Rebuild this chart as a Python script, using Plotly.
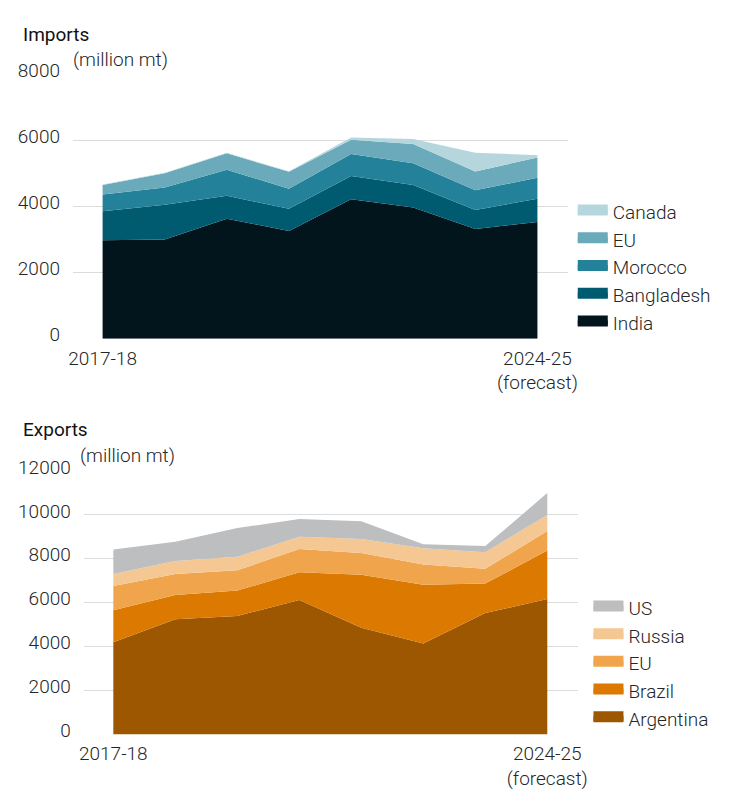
import plotly.graph_objects as go

years = ["2017-18", "2018-19", "2019-20", "2020-21", "2021-22", "2022-23", "2023-24", "2024-25"]
tick_labels = ["2017-18", "2024-25<br>(forecast)"]

# Imports (million mt)
imp_india = [2980, 3000, 3630, 3260, 4220, 3970, 3320, 3530]
imp_bangladesh = [875, 1050, 690, 670, 700, 680, 575, 700]
imp_morocco = [505, 525, 790, 605, 665, 655, 595, 635]
imp_eu = [290, 430, 495, 515, 430, 585, 570, 615]
imp_canada = [15, 15, 15, 15, 68, 146, 566, 68]

# Exports (million mt)
exp_argentina = [4200, 5255, 5400, 6130, 4860, 4145, 5530, 6175]
exp_brazil = [1465, 1095, 1155, 1255, 2410, 2675, 1345, 2205]
exp_eu = [1095, 965, 920, 1065, 995, 920, 670, 890]
exp_russia = [555, 585, 615, 555, 640, 745, 760, 730]
exp_us = [1110, 875, 1310, 805, 805, 175, 275, 995]

imports = [
    ("India", imp_india, "#02141c"),
    ("Bangladesh", imp_bangladesh, "#005a70"),
    ("Morocco", imp_morocco, "#238299"),
    ("EU", imp_eu, "#6aaabb"),
    ("Canada", imp_canada, "#b6d6de"),
]
exports = [
    ("Argentina", exp_argentina, "#9c5700"),
    ("Brazil", exp_brazil, "#dc7900"),
    ("EU", exp_eu, "#f0a54c"),
    ("Russia", exp_russia, "#f5c893"),
    ("US", exp_us, "#bdbebf"),
]

FONT = "Roboto"
TXT = "#262626"
OFF = 8                     # default page body margin
W, H = 729 - 2 * OFF, 798 - 2 * OFF

fig = go.Figure()


def add_group(series, stack, xa, ya, leg):
    for name, vals, col in series:
        fig.add_trace(go.Scatter(
            x=years, y=vals, name=name, stackgroup=stack, mode="none",
            fillcolor=col, xaxis=xa, yaxis=ya, showlegend=False,
            legendgroup=stack + name, hoverinfo="x+y+name",
        ))
    # legend-only entries (no data) for chunkier swatches
    for name, vals, col in series:
        fig.add_trace(go.Scatter(
            x=[None], y=[None], name=name, mode="lines", fill="toself",
            fillcolor=col, line=dict(color=col, width=10),
            xaxis=xa, yaxis=ya, legend=leg, legendgroup=stack + name,
            hoverinfo="skip",
        ))


add_group(imports, "imp", "x", "y", "legend")
add_group(exports, "exp", "x2", "y2", "legend2")


def px_x(p):
    return (p - OFF) / W


def px_y(p):
    return 1 - (p - OFF) / H


axis_font = dict(family=FONT, size=19, color=TXT, weight=300)

xcommon = dict(
    type="category", range=[-0.48, 7.49], showgrid=False, zeroline=False,
    showline=False, tickvals=[years[0], years[-1]], ticktext=tick_labels,
    tickfont=axis_font, ticks="outside", ticklen=2, tickcolor="rgba(0,0,0,0)",
    fixedrange=True,
)
ycommon = dict(
    showgrid=True, gridcolor="#dcdcdc", gridwidth=1, zeroline=False,
    showline=False, tickfont=axis_font, ticks="outside", ticklen=8,
    tickcolor="rgba(0,0,0,0)", ticklabelshift=-4, tickformat="d",
    fixedrange=True,
)

legend_common = dict(
    xanchor="left", yanchor="middle", traceorder="reversed",
    font=dict(family=FONT, size=19, color=TXT, weight=300),
    bgcolor="rgba(0,0,0,0)", itemclick=False, itemdoubleclick=False,
    tracegroupgap=0,
)

fig.update_layout(
    width=W, height=H,
    margin=dict(l=0, r=0, t=0, b=0),
    paper_bgcolor="white", plot_bgcolor="white",
    font=dict(family=FONT, size=19, color=TXT),
    xaxis=dict(domain=[px_x(70), px_x(575)], anchor="y", **xcommon),
    yaxis=dict(domain=[px_y(335), px_y(61)], anchor="x", range=[0, 8000],
               tickvals=[0, 2000, 4000, 6000, 8000], **ycommon),
    xaxis2=dict(domain=[px_x(81), px_x(585)], anchor="y2", **xcommon),
    yaxis2=dict(domain=[px_y(745), px_y(472)], anchor="x2", range=[0, 12000],
                tickvals=[0, 2000, 4000, 6000, 8000, 10000, 12000], **ycommon),
    legend=dict(x=px_x(580), y=px_y(261), **legend_common),
    legend2=dict(x=px_x(596), y=px_y(671), **legend_common),
    annotations=[
        dict(text="Imports", x=px_x(17), y=px_y(20), xref="paper", yref="paper",
             xanchor="left", yanchor="middle", showarrow=False,
             font=dict(family=FONT, size=19, color="#111111", weight=400)),
        dict(text="(million mt)", x=px_x(68), y=px_y(46), xref="paper", yref="paper",
             xanchor="left", yanchor="middle", showarrow=False,
             font=dict(family=FONT, size=19, color=TXT, weight=300)),
        dict(text="Exports", x=px_x(17), y=px_y(429), xref="paper", yref="paper",
             xanchor="left", yanchor="middle", showarrow=False,
             font=dict(family=FONT, size=19, color="#111111", weight=400)),
        dict(text="(million mt)", x=px_x(75), y=px_y(456), xref="paper", yref="paper",
             xanchor="left", yanchor="middle", showarrow=False,
             font=dict(family=FONT, size=19, color=TXT, weight=300)),
    ],
    showlegend=True,
)

fig.write_html("out.html")
